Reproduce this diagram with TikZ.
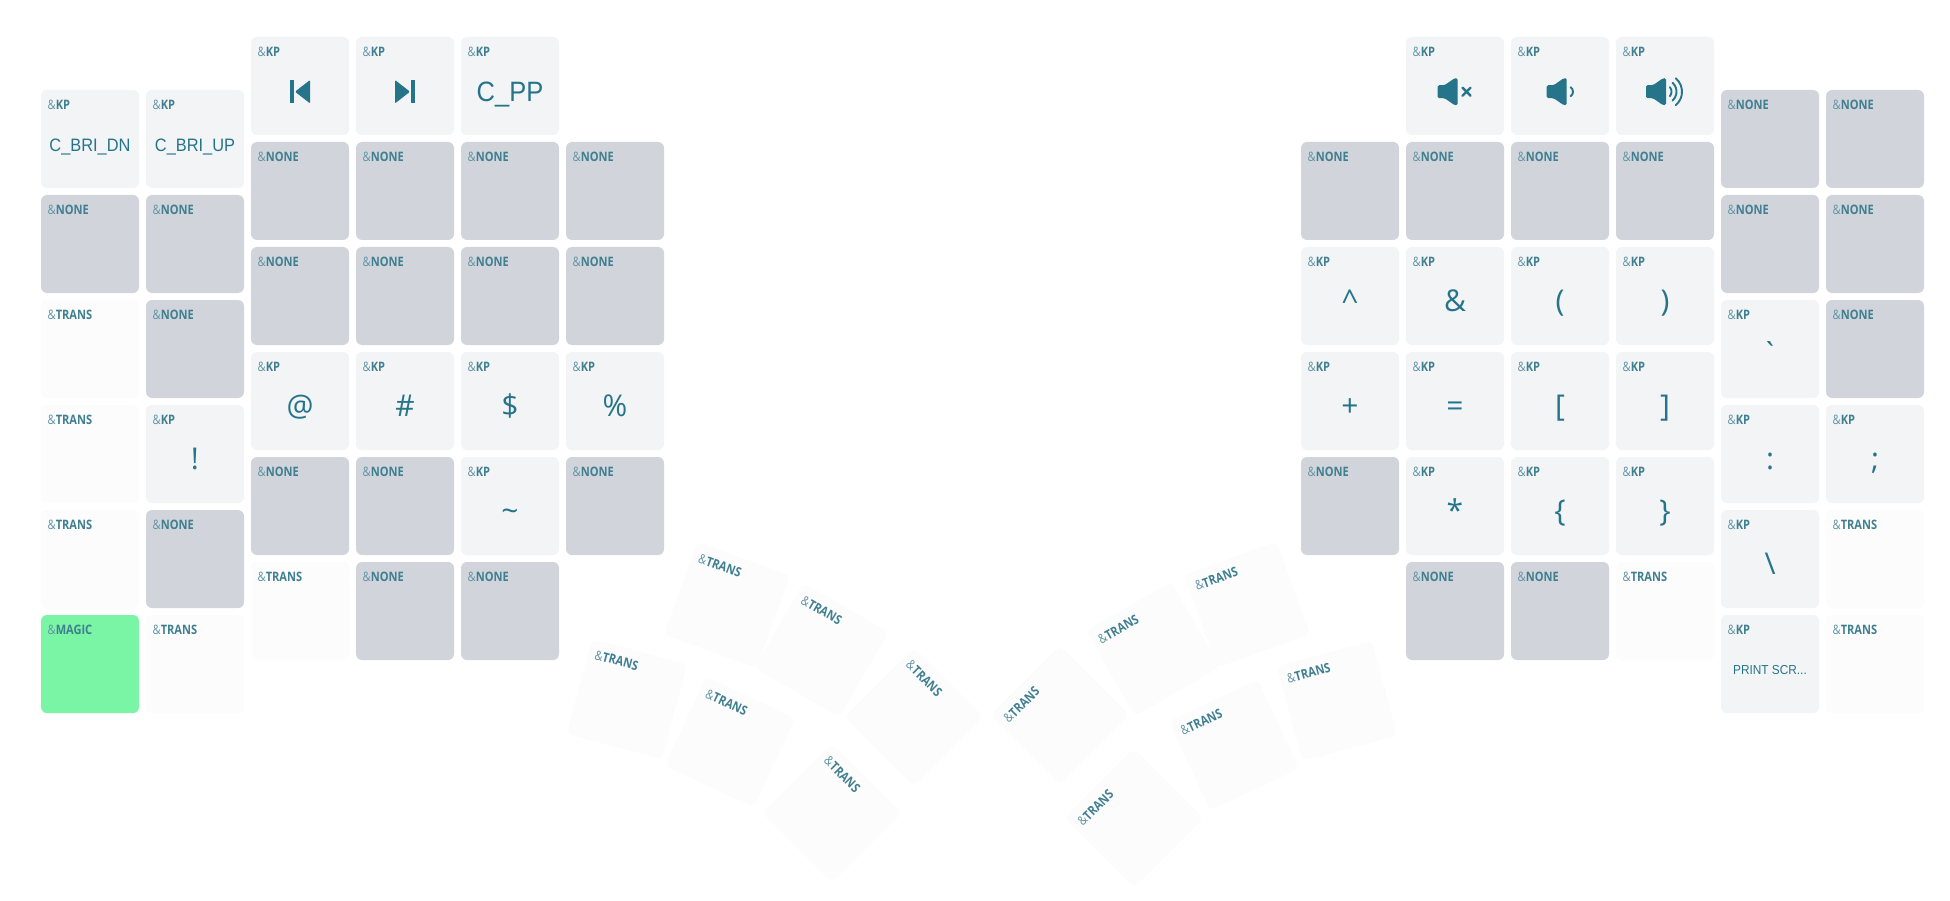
\documentclass[tikz,border=0pt]{standalone}
\usepackage{fontspec}
\setmainfont{Open Sans}
\newfontfamily\hdrfont{Open Sans}[FakeStretch=0.85]
\newfontfamily\legsym{Open Sans}
\newfontfamily\legword{Liberation Sans}[FakeStretch=0.91]
\definecolor{nonecol}{HTML}{D1D5DB}
\definecolor{kpcol}{HTML}{F3F4F6}
\definecolor{transcol}{HTML}{FCFCFD}
\definecolor{magiccol}{HTML}{7AF5A5}
\definecolor{legcol}{HTML}{26748A}
\definecolor{hdrcol}{HTML}{3F7F90}
\definecolor{ampcol}{HTML}{5F95A5}
\tikzset{
  keybox/.style={minimum size=98pt,inner sep=0pt,rounded corners=6pt},
  nonekey/.style={keybox,fill=nonecol},
  kpkey/.style={keybox,fill=kpcol},
  transkey/.style={keybox,fill=transcol},
  magickey/.style={keybox,fill=magiccol},
  hdrtext/.style={anchor=west,inner sep=0pt,text=hdrcol,font=\fontsize{13}{13}\hdrfont},
  bigleg/.style={anchor=base,inner sep=0pt,yshift=-15.7pt,text=legcol,font=\fontsize{30}{30}\legsym},
  wordleg/.style={anchor=base,inner sep=0pt,yshift=-15.7pt,text=legcol,font=\fontsize{28}{28}\legword},
  midleg/.style={anchor=base,inner sep=0pt,yshift=-12.7pt,text=legcol,font=\fontsize{18}{18}\legword},
  smallleg/.style={anchor=base,inner sep=0pt,yshift=-10pt,text=legcol,font=\fontsize{13}{13}\legword},
  icon/.style={fill=legcol,draw=none},
  iconline/.style={draw=legcol,line width=1.9pt,line cap=round}
}
% name, centre x, centre y, angle, kind, header
\newcommand{\keycap}[6]{%
  \begin{scope}[shift={(#2,#3)},rotate=#4,transform shape]
    \node[#5key] (#1) at (0,0) {};
    \node[hdrtext] (#1h) at (-42.5,-34.5) {{\color{ampcol}\&}\textbf{#6}};
  \end{scope}}
% speaker cone, x and y are its left end and middle
\newcommand{\cone}[2]{%
  \fill[icon,rounded corners=1.5pt] (#1,#2-6.5) -- (#1+7,#2-6.5) -- (#1+17,#2-13.5)
    -- (#1+20,#2-13.5) -- (#1+20,#2+13.5) -- (#1+17,#2+13.5) -- (#1+7,#2+6.5) -- (#1,#2+6.5) -- cycle;}
\begin{document}
\begin{tikzpicture}[x=1pt,y=-1pt]
  \path[use as bounding box,fill=white] (0,0) rectangle (1950,901);
  % left hand, outer columns
  \keycap{a1}{90}{139}{0}{kp}{KP}
  \keycap{a2}{90}{244}{0}{none}{NONE}
  \keycap{a3}{90}{349}{0}{trans}{TRANS}
  \keycap{a4}{90}{454}{0}{trans}{TRANS}
  \keycap{a5}{90}{559}{0}{trans}{TRANS}
  \keycap{a6}{90}{664}{0}{magic}{MAGIC}
  \keycap{b1}{195}{139}{0}{kp}{KP}
  \keycap{b2}{195}{244}{0}{none}{NONE}
  \keycap{b3}{195}{349}{0}{none}{NONE}
  \keycap{b4}{195}{454}{0}{kp}{KP}
  \keycap{b5}{195}{559}{0}{none}{NONE}
  \keycap{b6}{195}{664}{0}{trans}{TRANS}
  \keycap{c1}{300}{86}{0}{kp}{KP}
  \keycap{c2}{300}{191}{0}{none}{NONE}
  \keycap{c3}{300}{296}{0}{none}{NONE}
  \keycap{c4}{300}{401}{0}{kp}{KP}
  \keycap{c5}{300}{506}{0}{none}{NONE}
  \keycap{c6}{300}{611}{0}{trans}{TRANS}
  \keycap{d1}{405}{86}{0}{kp}{KP}
  \keycap{d2}{405}{191}{0}{none}{NONE}
  \keycap{d3}{405}{296}{0}{none}{NONE}
  \keycap{d4}{405}{401}{0}{kp}{KP}
  \keycap{d5}{405}{506}{0}{none}{NONE}
  \keycap{d6}{405}{611}{0}{none}{NONE}
  \keycap{e1}{510}{86}{0}{kp}{KP}
  \keycap{e2}{510}{191}{0}{none}{NONE}
  \keycap{e3}{510}{296}{0}{none}{NONE}
  \keycap{e4}{510}{401}{0}{kp}{KP}
  \keycap{e5}{510}{506}{0}{kp}{KP}
  \keycap{e6}{510}{611}{0}{none}{NONE}
  \keycap{f2}{615}{191}{0}{none}{NONE}
  \keycap{f3}{615}{296}{0}{none}{NONE}
  \keycap{f4}{615}{401}{0}{kp}{KP}
  \keycap{f5}{615}{506}{0}{none}{NONE}
  % right hand
  \keycap{g2}{1350}{191}{0}{none}{NONE}
  \keycap{g3}{1350}{296}{0}{kp}{KP}
  \keycap{g4}{1350}{401}{0}{kp}{KP}
  \keycap{g5}{1350}{506}{0}{none}{NONE}
  \keycap{h1}{1455}{86}{0}{kp}{KP}
  \keycap{h2}{1455}{191}{0}{none}{NONE}
  \keycap{h3}{1455}{296}{0}{kp}{KP}
  \keycap{h4}{1455}{401}{0}{kp}{KP}
  \keycap{h5}{1455}{506}{0}{kp}{KP}
  \keycap{h6}{1455}{611}{0}{none}{NONE}
  \keycap{i1}{1560}{86}{0}{kp}{KP}
  \keycap{i2}{1560}{191}{0}{none}{NONE}
  \keycap{i3}{1560}{296}{0}{kp}{KP}
  \keycap{i4}{1560}{401}{0}{kp}{KP}
  \keycap{i5}{1560}{506}{0}{kp}{KP}
  \keycap{i6}{1560}{611}{0}{none}{NONE}
  \keycap{j1}{1665}{86}{0}{kp}{KP}
  \keycap{j2}{1665}{191}{0}{none}{NONE}
  \keycap{j3}{1665}{296}{0}{kp}{KP}
  \keycap{j4}{1665}{401}{0}{kp}{KP}
  \keycap{j5}{1665}{506}{0}{kp}{KP}
  \keycap{j6}{1665}{611}{0}{trans}{TRANS}
  \keycap{m1}{1770}{139}{0}{none}{NONE}
  \keycap{m2}{1770}{244}{0}{none}{NONE}
  \keycap{m3}{1770}{349}{0}{kp}{KP}
  \keycap{m4}{1770}{454}{0}{kp}{KP}
  \keycap{m5}{1770}{559}{0}{kp}{KP}
  \keycap{m6}{1770}{664}{0}{kp}{KP}
  \keycap{n1}{1875}{139}{0}{none}{NONE}
  \keycap{n2}{1875}{244}{0}{none}{NONE}
  \keycap{n3}{1875}{349}{0}{none}{NONE}
  \keycap{n4}{1875}{454}{0}{kp}{KP}
  \keycap{n5}{1875}{559}{0}{trans}{TRANS}
  \keycap{n6}{1875}{664}{0}{trans}{TRANS}
  % thumb clusters
  \keycap{ta}{727}{605}{-20}{trans}{TRANS}
  \keycap{tb}{821.5}{650}{-30}{trans}{TRANS}
  \keycap{tc}{914}{717}{-45}{trans}{TRANS}
  \keycap{td}{627}{699}{-15}{trans}{TRANS}
  \keycap{te}{730}{742}{-25}{trans}{TRANS}
  \keycap{tf}{832}{813}{-45}{trans}{TRANS}
  \keycap{ua}{1247}{604.5}{20}{trans}{TRANS}
  \keycap{ub}{1153}{649}{30}{trans}{TRANS}
  \keycap{uc}{1060}{715}{45}{trans}{TRANS}
  \keycap{ud}{1337}{701}{15}{trans}{TRANS}
  \keycap{ue}{1234}{745}{25}{trans}{TRANS}
  \keycap{uf}{1134}{818}{45}{trans}{TRANS}
  % legends
  \node[midleg] (a1l) at (a1.center) {C\_BRI\_DN};
  \node[midleg] (b1l) at (b1.center) {C\_BRI\_UP};
  \node[bigleg] (b4l) at (b4.center) {!};
  \node[wordleg] (e1l) at (e1.center) {C\_PP};
  \node[bigleg] (c4l) at (c4.center) {@};
  \node[bigleg] (d4l) at (d4.center) {\#};
  \node[bigleg] (e4l) at (e4.center) {\$};
  \node[bigleg] (f4l) at (f4.center) {\%};
  \node[bigleg] (e5l) at (e5.center) {\textasciitilde};
  \node[bigleg] (g3l) at (g3.center) {\textasciicircum};
  \node[bigleg] (h3l) at (h3.center) {\&};
  \node[bigleg] (i3l) at (i3.center) {(};
  \node[bigleg] (j3l) at (j3.center) {)};
  \node[bigleg] (g4l) at (g4.center) {+};
  \node[bigleg] (h4l) at (h4.center) {=};
  \node[bigleg] (i4l) at (i4.center) {[};
  \node[bigleg] (j4l) at (j4.center) {]};
  \node[bigleg] (h5l) at (h5.center) {*};
  \node[bigleg] (i5l) at (i5.center) {\{};
  \node[bigleg] (j5l) at (j5.center) {\}};
  \node[bigleg] (m3l) at (m3.center) {\symbol{96}};
  \node[bigleg] (m4l) at (m4.center) {:};
  \node[bigleg] (n4l) at (n4.center) {;};
  \node[bigleg] (m5l) at (m5.center) {\textbackslash};
  \node[smallleg] (m6l) at (m6.center) {PRINT SCR...};
  % media icons
  \fill[icon] (290.2,80) rectangle (294,103.4);
  \fill[icon,rounded corners=1pt] (295,91.7) -- (310,80) -- (310,103.4) -- cycle;
  \fill[icon] (414.8,80) rectangle (411,103.4);
  \fill[icon,rounded corners=1pt] (410,91.7) -- (395,80) -- (395,103.4) -- cycle;
  \cone{1437.6}{91.7}
  \draw[iconline,line width=2.4pt] (1462.5,87.7) -- (1470.5,95.7) (1462.5,95.7) -- (1470.5,87.7);
  \cone{1546.7}{91.7}
  \draw[iconline] (1567.5,91.7) ++(-55:5.5) arc (-55:55:5.5);
  \cone{1646}{91.7}
  \draw[iconline] (1664.5,91.7) ++(-40:7) arc (-40:40:7);
  \draw[iconline] (1664.5,91.7) ++(-48:12) arc (-48:48:12);
  \draw[iconline] (1664.5,91.7) ++(-50:17.5) arc (-50:50:17.5);
\end{tikzpicture}
\end{document}
